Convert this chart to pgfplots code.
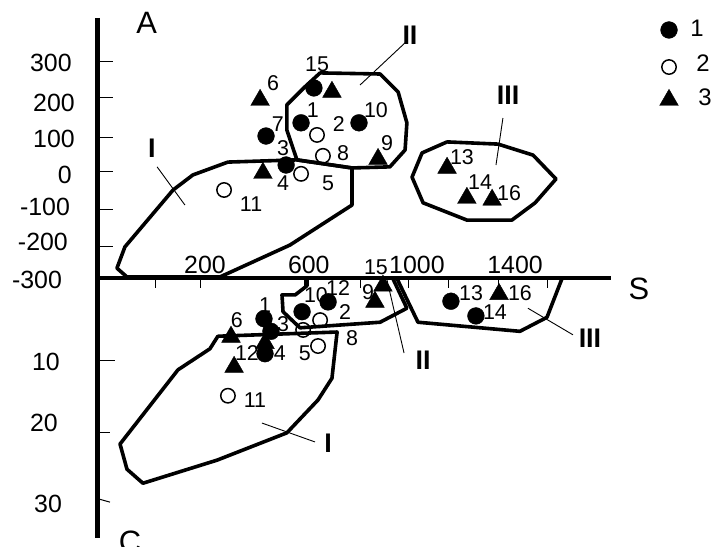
\documentclass[border=0pt]{standalone}
\usepackage{pgfplots}
\pgfplotsset{compat=1.18}
\usepackage{fontspec}
\setmainfont{Liberation Sans}
\begin{document}
\begin{tikzpicture}[
  lab/.style={font=\fontsize{21.5}{21.5}\selectfont, inner sep=0pt},
  tck/.style={font=\fontsize{25}{25}\selectfont, inner sep=0pt},
  leg/.style={font=\fontsize{24}{24}\selectfont, inner sep=0pt},
  rom/.style={font=\fontsize{27}{27}\selectfont\bfseries, inner sep=0pt},
  big/.style={font=\fontsize{31}{31}\selectfont, inner sep=0pt}]
\pgfplotsset{
  panel/.style={at={(0,0)}, anchor=south west, scale only axis, width=712bp, height=547bp,
    xmin=-596.12, xmax=2168.93, axis lines=none, clip=false},
  reg/.style={black, line width=3.6bp, line join=round, line cap=round, no markers, forget plot},
  s1/.style={only marks, mark=*, mark size=8.4bp, black, mark options={fill=black}, forget plot},
  s2/.style={only marks, mark=o, mark size=7.2bp, black, mark options={line width=1.5bp}, forget plot},
  s3/.style={only marks, mark=triangle*, mark size=10.8bp, black, mark options={fill=black}, forget plot},
}
% ---------------- upper panel: S vs A ----------------
\begin{axis}[panel, ymin=-1021.80, ymax=468.66]
% axes
\draw[line width=5bp] (axis cs:-216,420) -- (axis cs:-216,-997);
\draw[line width=4bp] (axis cs:-219,-289) -- (axis cs:1777,-289);
\pgfplotsinvokeforeach{300,204,95,0,-101,-202}{\draw[line width=1bp] (axis cs:-208,#1) -- (axis cs:-157,#1);}
\pgfplotsinvokeforeach{6,181,588,802,992,1144,1338,1532}{\draw[line width=1bp] (axis cs:#1,-294) -- (axis cs:#1,-316);}
% tick labels
\node[tck,anchor=east] at (axis cs:-317,297) {300};
\node[tck,anchor=east] at (axis cs:-305,188) {200};
\node[tck,anchor=east] at (axis cs:-305,90) {100};
\node[tck,anchor=east] at (axis cs:-317,-8) {0};
\node[tck,anchor=east] at (axis cs:-324,-95) {-100};
\node[tck,anchor=east] at (axis cs:-332,-191) {-200};
\node[tck,anchor=east] at (axis cs:-355,-294) {-300};
\node[tck] at (axis cs:200,-253) {200};
\node[tck] at (axis cs:603,-253) {600};
\node[tck] at (axis cs:1023,-253) {1000};
\node[tck] at (axis cs:1404,-253) {1400};
\node[big] at (axis cs:-27,406) {A};
\node[big] at (axis cs:1885,-319) {S};
% regions
\addplot[reg] coordinates {(289,27) (557,33) (771,11) (771,-90) (530,-199) (258,-286) (-103,-286) (-142,-262) (-111,-204) (76,-49) (153,-8) (289,27)};
\addplot[reg] coordinates {(647,270) (880,267) (950,218) (984,134) (977,60) (918,14) (771,11) (557,33) (518,114) (518,183) (588,232) (647,270)};
\addplot[reg] coordinates {(1140,82) (1338,76) (1474,46) (1563,-19) (1482,-84) (1392,-131) (1217,-131) (1047,-84) (1004,-14) (1043,52) (1140,82)};
% leaders
\draw[line width=0.9bp] (axis cs:14,14) -- (axis cs:122,-90);
\draw[line width=0.9bp] (axis cs:802,237) -- (axis cs:977,352);
\draw[line width=0.9bp] (axis cs:1330,19) -- (axis cs:1357,147);
\node[rom] at (axis cs:-6,65) {I};
\node[rom] at (axis cs:996,373) {II};
\node[rom] at (axis cs:1377,210) {III};
% data
\addplot[s1] coordinates {(623,229) (573,134) (798,134) (437,98) (515,19)};
\addplot[s2] coordinates {(635,101) (658,44) (573,-5) (274,-49)};
\addplot[s3] coordinates {(693,218) (414,196) (425,-3) (872,35) (1140,11) (1217,-71) (1315,-76)};
% point labels
\node[lab] at (axis cs:635,294) {15};
\node[lab] at (axis cs:464,243) {6};
\node[lab] at (axis cs:619,169) {1};
\node[lab] at (axis cs:864,169) {10};
\node[lab] at (axis cs:720,131) {2};
\node[lab] at (axis cs:483,131) {7};
\node[lab] at (axis cs:503,65) {3};
\node[lab] at (axis cs:736,52) {8};
\node[lab] at (axis cs:907,79) {9};
\node[lab] at (axis cs:503,-30) {4};
\node[lab] at (axis cs:678,-30) {5};
\node[lab] at (axis cs:379,-87) {11};
\node[lab] at (axis cs:1198,41) {13};
\node[lab] at (axis cs:1268,-27) {14};
\node[lab] at (axis cs:1381,-57) {16};
% legend
\addplot[s1] coordinates {(2002,387)};
\addplot[s2] coordinates {(2002,286)};
\addplot[s3] coordinates {(2002,196)};
\node[leg] at (axis cs:2111,392) {1};
\node[leg] at (axis cs:2134,297) {2};
\node[leg] at (axis cs:2142,204) {3};
\end{axis}
% ---------------- lower panel: S vs C ----------------
\begin{axis}[panel, ymin=-41.43, ymax=36.71, y dir=reverse]
\draw[line width=1bp] (axis cs:-208,10) -- (axis cs:-150,10);
\draw[line width=1bp] (axis cs:-208,20.3) -- (axis cs:-169,20.3);
\draw[line width=1bp] (axis cs:-208,29.9) -- (axis cs:-169,30.3);
\node[tck,anchor=east] at (axis cs:-363,10.3) {10};
\node[tck,anchor=east] at (axis cs:-371,19.0) {20};
\node[tck,anchor=east] at (axis cs:-355,30.6) {30};
\node[big] at (axis cs:-91,36) {C};
% regions
\addplot[reg] coordinates {(250,6.6) (713,6.0) (693,12.6) (639,15.7) (518,20.4) (247,24.3) (-41,27.6) (-103,25.6) (-130,22.0) (95,11.4) (219,8.4) (250,6.6)};
\addplot[reg] coordinates {(596,-1.6) (596,-0.6) (550,0.7) (499,0.7) (503,3.1) (569,5.4) (880,4.6) (984,2.6) (930,-1.6)};
\addplot[reg] coordinates {(946,-1.6) (1027,4.6) (1423,5.9) (1528,3.9) (1586,-1.6)};
% leaders
\draw[line width=0.9bp] (axis cs:421,19.0) -- (axis cs:627,21.7);
\draw[line width=0.9bp] (axis cs:907,-1.4) -- (axis cs:973,9.0);
\draw[line width=0.9bp] (axis cs:1454,2.6) -- (axis cs:1629,6.4);
\node[rom] at (axis cs:678,21.9) {I};
\node[rom] at (axis cs:1047,10.0) {II};
\node[rom] at (axis cs:1695,6.9) {III};
% data
\addplot[s1] coordinates {(429,4.1) (456,5.9) (433,9.1) (577,3.1) (678,1.7) (1155,1.6) (1252,3.7)};
\addplot[s2] coordinates {(581,5.7) (647,4.3) (639,8.0) (289,15.1)};
\addplot[s3] coordinates {(301,6.7) (433,7.6) (313,11.0) (860,1.7) (891,-0.6) (1342,0.6)};
% point labels
\node[lab] at (axis cs:324,4.3) {6};
\node[lab] at (axis cs:433,2.1) {1};
\node[lab] at (axis cs:503,4.9) {3};
\node[lab] at (axis cs:363,9.0) {12};
\node[lab] at (axis cs:491,9.0) {4};
\node[lab] at (axis cs:588,9.0) {5};
\node[lab] at (axis cs:394,15.7) {11};
\node[lab] at (axis cs:631,0.7) {10};
\node[lab] at (axis cs:717,-0.3) {12};
\node[lab] at (axis cs:744,3.1) {2};
\node[lab] at (axis cs:771,6.9) {8};
\node[lab] at (axis cs:833,0.3) {9};
\node[lab] at (axis cs:864,-3.3) {15};
\node[lab] at (axis cs:1233,0.4) {13};
\node[lab] at (axis cs:1423,0.4) {16};
\node[lab] at (axis cs:1326,3.1) {14};
\end{axis}
\pgfresetboundingbox
\path[use as bounding box] (0,0) rectangle (712bp,547bp);
\end{tikzpicture}
\end{document}
